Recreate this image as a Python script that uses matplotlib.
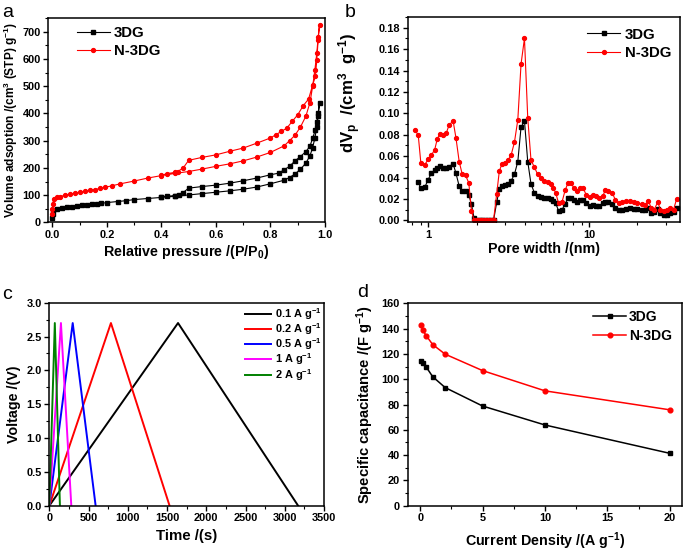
import numpy as np
import matplotlib
matplotlib.use("Agg")
import matplotlib.pyplot as plt
from matplotlib.ticker import MultipleLocator, LogLocator, NullFormatter

# ---- data (a) N2 isotherms: adsorption branch then desorption branch ----
p_ads_3dg = [0.0005, 0.002, 0.004, 0.016, 0.034, 0.053, 0.071, 0.09, 0.108, 0.126, 0.145, 0.163,
             0.18, 0.2, 0.24, 0.27, 0.3, 0.35, 0.4, 0.45, 0.5, 0.55, 0.6, 0.65, 0.7, 0.75, 0.8,
             0.85, 0.87, 0.89, 0.91, 0.93, 0.945, 0.955, 0.963, 0.97, 0.975, 0.98]
v_ads_3dg = [15, 30, 46, 50, 54, 56, 58, 62, 63, 65, 67, 68, 70, 73, 77, 80, 84, 88, 92, 96, 101,
             106, 111, 116, 122, 130, 142, 155, 165, 178, 195, 218, 245, 275, 310, 350, 390, 440]
p_des_3dg = [0.975, 0.97, 0.965, 0.955, 0.945, 0.93, 0.91, 0.89, 0.87, 0.85, 0.83, 0.8, 0.75,
             0.7, 0.65, 0.6, 0.55, 0.5, 0.48, 0.465, 0.45, 0.42, 0.4]
v_des_3dg = [400, 370, 340, 310, 280, 260, 242, 226, 206, 193, 181, 175, 163, 153, 144, 137,
             132, 126, 110, 102, 99, 96, 95]

p_ads_n3dg = [0.0002, 0.0005, 0.001, 0.006, 0.016, 0.028, 0.047, 0.065, 0.083, 0.1, 0.12, 0.139,
              0.157, 0.175, 0.194, 0.22, 0.25, 0.3, 0.35, 0.4, 0.45, 0.5, 0.55, 0.6, 0.65, 0.7,
              0.75, 0.8, 0.85, 0.87, 0.89, 0.91, 0.93, 0.945, 0.955, 0.963, 0.97, 0.975, 0.98]
v_ads_n3dg = [30, 50, 68, 86, 92, 95, 100, 104, 107, 111, 114, 118, 121, 125, 129, 135, 142, 152,
              163, 172, 180, 187, 196, 206, 215, 226, 240, 257, 281, 300, 320, 350, 390, 440,
              500, 560, 620, 680, 725]
p_des_n3dg = [0.975, 0.97, 0.965, 0.955, 0.94, 0.92, 0.9, 0.88, 0.86, 0.84, 0.82, 0.8, 0.75,
              0.7, 0.65, 0.6, 0.55, 0.5, 0.48, 0.46, 0.45, 0.42, 0.4]
v_des_n3dg = [670, 597, 536, 505, 453, 428, 395, 371, 346, 334, 322, 310, 291, 273, 261, 248,
              239, 228, 200, 187, 184, 179, 173]

# ---- data (b) pore size distribution ----
pore_w = [0.828, 0.868, 0.901, 0.954, 1.0, 1.048, 1.099, 1.14, 1.185, 1.24, 1.30, 1.35, 1.43,
          1.49, 1.56, 1.63, 1.71, 1.79, 1.86, 1.93, 2.01, 2.09, 2.17, 2.26, 2.35, 2.45, 2.55,
          2.67, 2.77, 2.88, 2.99, 3.13, 3.28, 3.44, 3.61, 3.78, 3.97, 4.16, 4.36, 4.57, 4.79,
          5.02, 5.26, 5.52, 5.78, 6.0, 6.2, 6.47, 6.79, 7.1, 7.4, 7.76, 8.05, 8.44, 8.77, 9.2,
          9.6, 10.1, 10.6, 11.1, 11.6, 12.2, 12.6, 13.2, 13.9, 14.6, 15.3, 16.0, 16.9, 17.9,
          18.9, 20.0, 21.2, 22.3, 23.4, 24.3, 25.4, 26.7, 27.8, 29.1, 30.5, 32.0, 33.5, 35.0]
dv_n3dg = [0.084, 0.080, 0.054, 0.052, 0.057, 0.061, 0.066, 0.076, 0.081, 0.080, 0.082, 0.089,
           0.093, 0.077, 0.055, 0.043, 0.042, 0.035, 0.009, 0.0, 0.0, 0.0, 0.0, 0.0, 0.0, 0.0,
           0.0, 0.025, 0.046, 0.053, 0.054, 0.056, 0.061, 0.073, 0.094, 0.146, 0.170, 0.096,
           0.056, 0.050, 0.043, 0.040, 0.037, 0.036, 0.034, 0.030, 0.026, 0.016, 0.017, 0.028,
           0.035, 0.035, 0.030, 0.027, 0.030, 0.030, 0.024, 0.022, 0.024, 0.023, 0.021, 0.023,
           0.028, 0.027, 0.026, 0.019, 0.016, 0.017, 0.018, 0.018, 0.017, 0.016, 0.015, 0.014,
           0.018, 0.012, 0.010, 0.017, 0.010, 0.009, 0.010, 0.012, 0.010, 0.020]
dv_3dg = [np.nan, 0.036, 0.030, 0.031, 0.038, 0.044, 0.047, 0.049, 0.051, 0.049, 0.049, 0.050,
          0.053, 0.044, 0.032, 0.027, 0.027, 0.024, 0.015, 0.002, 0.0, 0.0, 0.0, 0.0, 0.0, 0.0,
          0.0, 0.017, 0.029, 0.032, 0.033, 0.034, 0.037, 0.043, 0.055, 0.087, 0.093, 0.055,
          0.034, 0.026, 0.023, 0.022, 0.021, 0.021, 0.020, 0.018, 0.016, 0.009, 0.010, 0.015,
          0.021, 0.021, 0.019, 0.017, 0.019, 0.019, 0.016, 0.013, 0.014, 0.013, 0.013, 0.016,
          0.017, 0.017, 0.015, 0.012, 0.010, 0.010, 0.011, 0.012, 0.011, 0.011, 0.010, 0.010,
          0.012, 0.007, 0.008, 0.011, 0.007, 0.005, 0.005, 0.007, 0.008, 0.012]

# ---- data (c) charge/discharge: (start, peak, end) time and voltage ----
gcd_labels = ["0.1 A g$^{-1}$", "0.2 A g$^{-1}$", "0.5 A g$^{-1}$", "1 A g$^{-1}$", "2 A g$^{-1}$"]
gcd_colors = ["black", "red", "blue", "magenta", "green"]
gcd_time = [[0, 1640, 3170], [0, 785, 1532], [0, 298, 590], [0, 148, 280], [0, 70, 135]]
gcd_volt = [[0, 2.7, 0], [0, 2.7, 0], [0, 2.7, 0], [0, 2.7, 0], [0, 2.7, 0]]

# ---- data (d) rate capability ----
cur_dens = [0.1, 0.2, 0.5, 1, 2, 5, 10, 20]
cap_3dg = [114.4, 112.5, 109.4, 102, 93.4, 78.8, 63.8, 41.4]
cap_n3dg = [142.6, 138.7, 134.2, 127.4, 119.8, 106.8, 90.8, 75.8]

plt.rcParams['font.family'] = ['Liberation Sans', 'DejaVu Sans']
plt.rcParams['font.weight'] = 'bold'
plt.rcParams['axes.labelweight'] = 'bold'
plt.rcParams['mathtext.fontset'] = 'custom'
plt.rcParams['mathtext.rm'] = 'Liberation Sans:bold'
plt.rcParams['mathtext.it'] = 'Liberation Sans:bold'
plt.rcParams['mathtext.bf'] = 'Liberation Sans:bold'
plt.rcParams['mathtext.default'] = 'rm'
plt.rcParams['axes.linewidth'] = 1.1

TICK = 7.9
LAB = 10.3
LEG = 10.8


def style(ax):
    ax.tick_params(which='major', length=3.5, width=1.0, labelsize=TICK, pad=2)
    ax.tick_params(which='minor', length=2, width=0.8)
    ax.tick_params(top=False, right=False, which='both')


fig = plt.figure(figsize=(6.85, 5.51), dpi=100)
ax_a = fig.add_axes([0.0708, 0.5962, 0.4036, 0.3711])
ax_b = fig.add_axes([0.5956, 0.5971, 0.3978, 0.3721])
ax_c = fig.add_axes([0.0720, 0.0822, 0.4010, 0.3684])
ax_d = fig.add_axes([0.5952, 0.0822, 0.4009, 0.3673])

# (a)
ax_a.plot(p_ads_3dg + p_des_3dg, v_ads_3dg + v_des_3dg, '-s', color='black', lw=0.8, ms=2.6, label='3DG')
ax_a.plot(p_ads_n3dg + p_des_n3dg, v_ads_n3dg + v_des_n3dg, '-o', color='red', lw=0.8, ms=2.8, label='N-3DG')
ax_a.set_xlim(-0.014, 1.0)
ax_a.set_ylim(0, 750)
ax_a.xaxis.set_major_locator(MultipleLocator(0.2))
ax_a.xaxis.set_minor_locator(MultipleLocator(0.1))
ax_a.yaxis.set_major_locator(MultipleLocator(100))
ax_a.yaxis.set_minor_locator(MultipleLocator(50))
ax_a.set_xlabel('Relative pressure /(P/P$_0$)', fontsize=LAB, labelpad=2)
ax_a.set_ylabel('Volume adsoption /(cm$^3$ (STP) g$^{-1}$)', fontsize=8.6, labelpad=2)
ax_a.legend(loc='upper left', bbox_to_anchor=(0.102, 0.962), frameon=False, fontsize=LEG,
            handlelength=2.2, handletextpad=0.3, labelspacing=0.3, borderpad=0, borderaxespad=0,
            numpoints=1)
style(ax_a)

# (b)
ax_b.plot(pore_w, dv_3dg, '-s', color='black', lw=0.8, ms=2.6, label='3DG')
ax_b.plot(pore_w, dv_n3dg, '-o', color='red', lw=0.8, ms=2.8, label='N-3DG')
ax_b.set_xscale('log')
ax_b.set_xlim(0.75, 37)
ax_b.set_ylim(-0.0015, 0.19)
ax_b.xaxis.set_major_locator(LogLocator(base=10))
ax_b.xaxis.set_minor_locator(LogLocator(base=10, subs=np.arange(2, 10)))
ax_b.xaxis.set_minor_formatter(NullFormatter())
ax_b.xaxis.set_major_formatter(matplotlib.ticker.FuncFormatter(lambda v, p: f'{v:g}'))
ax_b.yaxis.set_major_locator(MultipleLocator(0.02))
ax_b.yaxis.set_minor_locator(MultipleLocator(0.01))
ax_b.yaxis.set_major_formatter(matplotlib.ticker.FormatStrFormatter('%.2f'))
ax_b.set_xlabel('Pore width /(nm)', fontsize=LAB, labelpad=2)
ax_b.set_ylabel(r'dV$_{\rm p}$  /(cm$^3$  g$^{-1}$)', fontsize=LAB + 1.8, labelpad=3)
ax_b.yaxis.set_label_coords(-0.165, 0.63)
ax_b.legend(loc='upper left', bbox_to_anchor=(0.657, 0.948), frameon=False, fontsize=LEG,
            handlelength=2.2, handletextpad=0.3, labelspacing=0.3, borderpad=0, borderaxespad=0,
            numpoints=1)
style(ax_b)

# (c)
for t, v, c, lab in zip(gcd_time, gcd_volt, gcd_colors, gcd_labels):
    ax_c.plot(t, v, color=c, lw=1.4, label=lab)
ax_c.set_xlim(0, 3500)
ax_c.set_ylim(0, 3.0)
ax_c.xaxis.set_major_locator(MultipleLocator(500))
ax_c.xaxis.set_minor_locator(MultipleLocator(250))
ax_c.yaxis.set_major_locator(MultipleLocator(0.5))
ax_c.yaxis.set_minor_locator(MultipleLocator(0.25))
ax_c.yaxis.set_major_formatter(matplotlib.ticker.FormatStrFormatter('%.1f'))
ax_c.set_xlabel('Time /(s)', fontsize=LAB + 0.5, labelpad=4)
ax_c.set_ylabel('Voltage /(V)', fontsize=LAB, labelpad=4)
ax_c.legend(loc='upper left', bbox_to_anchor=(0.712, 0.985), frameon=False, fontsize=7.9,
            handlelength=2.4, handletextpad=0.35, labelspacing=-0.05, borderpad=0, borderaxespad=0)
style(ax_c)

# (d)
ax_d.plot(cur_dens, cap_3dg, '-s', color='black', lw=1.1, ms=3.2, label='3DG')
ax_d.plot(cur_dens, cap_n3dg, '-o', color='red', lw=1.1, ms=3.4, label='N-3DG')
ax_d.set_xlim(-1, 21)
ax_d.set_ylim(0, 160)
ax_d.xaxis.set_major_locator(MultipleLocator(5))
ax_d.xaxis.set_minor_locator(MultipleLocator(2.5))
ax_d.yaxis.set_major_locator(MultipleLocator(20))
ax_d.yaxis.set_minor_locator(MultipleLocator(10))
ax_d.set_xlabel('Current Density /(A g$^{-1}$)', fontsize=LAB, labelpad=5)
ax_d.set_ylabel('Specific capacitance /(F g$^{-1}$)', fontsize=LAB + 0.3, labelpad=4)
ax_d.legend(loc='upper left', bbox_to_anchor=(0.675, 0.967), frameon=False, fontsize=10,
            handlelength=2.4, handletextpad=0.2, labelspacing=0.35, borderpad=0, borderaxespad=0,
            numpoints=1)
style(ax_d)

# panel letters
for x, y, s in [(0.003, 0.977, 'a'), (0.503, 0.977, 'b'), (0.003, 0.466, 'c'), (0.521, 0.470, 'd')]:
    fig.text(x, y, s, fontsize=14, fontweight='normal', va='center', ha='left')

fig.savefig('out.png', dpi=100)
